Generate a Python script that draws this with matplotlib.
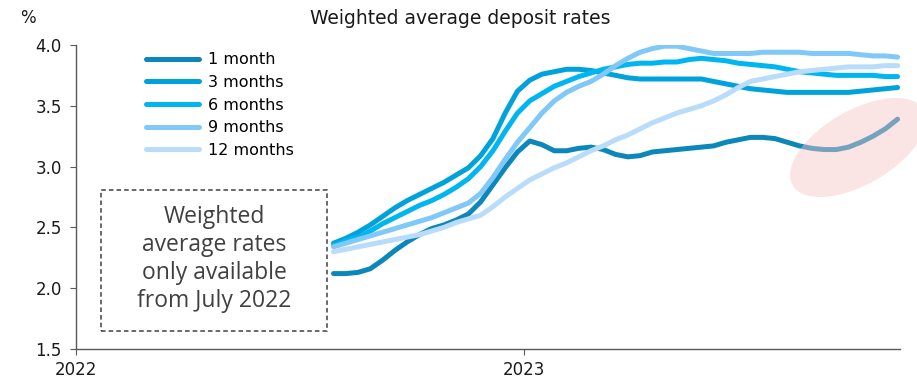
import numpy as np
import pandas as pd
import matplotlib
matplotlib.use("Agg")
import matplotlib.pyplot as plt
from matplotlib.patches import Ellipse, Rectangle

plt.rcParams['font.family'] = ['DejaVu Sans']

# observations every 10 days from end of July 2022
dates = pd.date_range("2022-07-30", periods=47, freq="10D")

rate_1m = [2.12, 2.12, 2.13, 2.16, 2.23, 2.31, 2.38, 2.44, 2.49, 2.52, 2.56, 2.61,
           2.71, 2.85, 2.99, 3.12, 3.21, 3.18, 3.13, 3.13, 3.15, 3.16, 3.14, 3.10,
           3.08, 3.09, 3.12, 3.13, 3.14, 3.15, 3.16, 3.17, 3.20, 3.22, 3.24, 3.24,
           3.23, 3.20, 3.17, 3.15, 3.14, 3.14, 3.16, 3.20, 3.25, 3.31, 3.39]
rate_3m = [2.37, 2.41, 2.46, 2.52, 2.59, 2.66, 2.72, 2.77, 2.82, 2.87, 2.93, 2.99,
           3.09, 3.23, 3.44, 3.62, 3.71, 3.76, 3.78, 3.80, 3.80, 3.79, 3.77, 3.75,
           3.73, 3.72, 3.72, 3.72, 3.72, 3.72, 3.72, 3.70, 3.68, 3.66, 3.64, 3.63,
           3.62, 3.61, 3.61, 3.61, 3.61, 3.61, 3.61, 3.62, 3.63, 3.64, 3.65]
rate_6m = [2.35, 2.39, 2.42, 2.47, 2.53, 2.58, 2.63, 2.68, 2.72, 2.77, 2.83, 2.90,
           3.00, 3.13, 3.29, 3.44, 3.54, 3.60, 3.66, 3.70, 3.74, 3.77, 3.80, 3.82,
           3.84, 3.85, 3.85, 3.86, 3.86, 3.88, 3.89, 3.88, 3.87, 3.85, 3.84, 3.83,
           3.82, 3.80, 3.78, 3.77, 3.76, 3.75, 3.75, 3.75, 3.75, 3.74, 3.74]
rate_9m = [2.34, 2.37, 2.40, 2.43, 2.46, 2.49, 2.52, 2.55, 2.58, 2.62, 2.66, 2.70,
           2.78, 2.91, 3.06, 3.20, 3.32, 3.44, 3.54, 3.61, 3.66, 3.70, 3.76, 3.83,
           3.89, 3.94, 3.97, 3.99, 3.99, 3.97, 3.95, 3.93, 3.93, 3.93, 3.93, 3.94,
           3.94, 3.94, 3.94, 3.93, 3.93, 3.93, 3.93, 3.92, 3.91, 3.91, 3.90]
rate_12m = [2.30, 2.32, 2.34, 2.36, 2.38, 2.40, 2.42, 2.44, 2.47, 2.50, 2.54, 2.57,
            2.60, 2.67, 2.75, 2.82, 2.89, 2.94, 2.99, 3.03, 3.08, 3.13, 3.17, 3.22,
            3.26, 3.31, 3.36, 3.40, 3.44, 3.47, 3.50, 3.54, 3.59, 3.65, 3.70, 3.72,
            3.74, 3.76, 3.78, 3.79, 3.80, 3.81, 3.82, 3.82, 3.82, 3.83, 3.83]

labels = ["1 month", "3 months", "6 months", "9 months", "12 months"]
series = [rate_1m, rate_3m, rate_6m, rate_9m, rate_12m]
colors = ["#0b87b9", "#00a2dc", "#00b6f0", "#80c8f8", "#b8dcfa"]

fig = plt.figure(figsize=(9.17, 3.81), dpi=100)
ax = fig.add_axes([0.0829, 0.084, 0.8986, 0.798])

lines = []
for lab, vals, col in zip(labels, series, colors):
    ln, = ax.plot(dates, vals, color=col, lw=3.6, solid_capstyle='round',
                  solid_joinstyle='round', label=lab)
    lines.append(ln)

ax.set_ylim(1.5, 4.0)
ax.set_yticks([1.5, 2.0, 2.5, 3.0, 3.5, 4.0])
ax.set_yticklabels([f"{v:.1f}" for v in ax.get_yticks()])
ax.set_xlim(pd.Timestamp("2022-01-01"), pd.Timestamp("2023-11-04"))
ax.set_xticks([pd.Timestamp("2022-01-01"), pd.Timestamp("2023-01-01")])
ax.set_xticklabels(["2022", "2023"])

for s in ["top", "right"]:
    ax.spines[s].set_visible(False)
for s in ["left", "bottom"]:
    ax.spines[s].set_color("#595959")
    ax.spines[s].set_linewidth(1.0)
ax.tick_params(axis='both', colors="#595959", labelcolor="#1a1a1a", labelsize=12,
               length=4.3, width=0.8)
ax.tick_params(axis='y', pad=6)
ax.tick_params(axis='x', pad=4)

ax.legend(handles=lines, loc='upper left', bbox_to_anchor=(0.085, 0.976),
          frameon=False, fontsize=11.5, handlelength=3.3, handletextpad=0.6,
          labelspacing=0.48, borderaxespad=0, borderpad=0)

fig.text(460 / 917, 1 - 18 / 381, "Weighted average deposit rates", ha='center',
         va='center', fontsize=13.5, color="#1a1a1a")
fig.text(28 / 917, 1 - 18 / 381, "%", ha='center', va='center', fontsize=12,
         color="#1a1a1a")

# dashed note box on the left
box = Rectangle((101 / 917, 1 - 331 / 381), 226 / 917, 141 / 381,
                transform=fig.transFigure, fill=False, edgecolor="#404040",
                linestyle=(0, (3, 2)), linewidth=1.1)
fig.patches.append(box)
fig.text(214 / 917, 1 - 259 / 381,
         "Weighted\naverage rates\nonly available\nfrom July 2022",
         ha='center', va='center', fontsize=16.5, color="#404040",
         family=['Open Sans', 'DejaVu Sans'], linespacing=1.24)

# highlight around the latest 1-month readings
hl = Ellipse((8.58, 3.81 - 1.475), 1.51, 0.74, angle=30,
             transform=fig.dpi_scale_trans, facecolor="#f8c4c4", alpha=0.45,
             edgecolor='none', zorder=5)
fig.patches.append(hl)

fig.savefig("out.png", dpi=100)
